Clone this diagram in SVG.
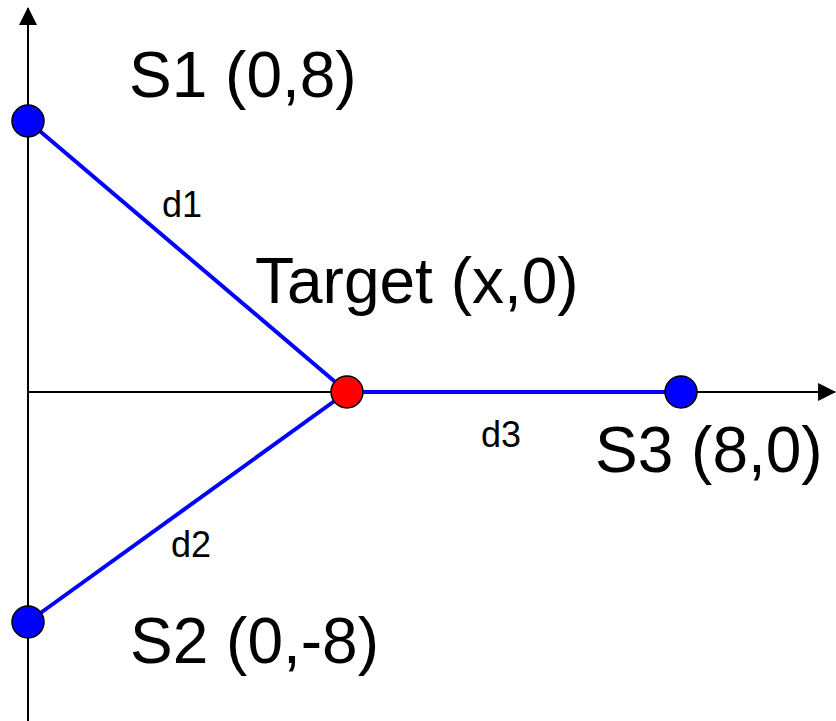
<svg xmlns="http://www.w3.org/2000/svg" width="836" height="721" viewBox="0 0 836 721">
<style>
.axis{stroke:#000;stroke-width:2;fill:none}
.edge{stroke:#0000ff;stroke-width:4;fill:none}
.dot{stroke:#000;stroke-width:1.5}
.big{font-family:"Liberation Sans",Arial,sans-serif;font-size:64px;fill:#000}
.small{font-family:"Liberation Sans",Arial,sans-serif;font-size:36px;fill:#000}
</style>
<defs>
<marker id="arr" markerUnits="userSpaceOnUse" markerWidth="18" markerHeight="18" refX="16" refY="8.5" orient="auto" viewBox="0 0 17 17">
<path d="M0,0 L17,8.5 L0,17 z" fill="#000"/>
</marker>
</defs>
<g id="axes">
<line class="axis" x1="28" y1="721" x2="28" y2="8" marker-end="url(#arr)"/>
<line class="axis" x1="28" y1="392" x2="835" y2="392" marker-end="url(#arr)"/>
</g>
<g id="connectors">
<line class="edge" x1="28" y1="121" x2="347" y2="392"/>
<line class="edge" x1="28" y1="622" x2="347" y2="392"/>
<line class="edge" x1="347" y1="392" x2="681" y2="392"/>
<text class="small" x="162" y="217">d1</text>
<text class="small" x="171" y="557">d2</text>
<text class="small" x="481" y="447">d3</text>
</g>
<g id="S1">
<circle class="dot" cx="28" cy="121" r="16" fill="#0000ff"/>
<text class="big" x="129" y="97">S1 (0,8)</text>
</g>
<g id="S2">
<circle class="dot" cx="28" cy="622" r="16" fill="#0000ff"/>
<text class="big" x="130" y="663">S2 (0,-8)</text>
</g>
<g id="S3">
<circle class="dot" cx="681" cy="392" r="16" fill="#0000ff"/>
<text class="big" x="595" y="472">S3 (8,0)</text>
</g>
<g id="Target">
<circle class="dot" cx="347" cy="392" r="16" fill="#ff0000"/>
<text class="big" x="255" y="303">Target (x,0)</text>
</g>
</svg>
